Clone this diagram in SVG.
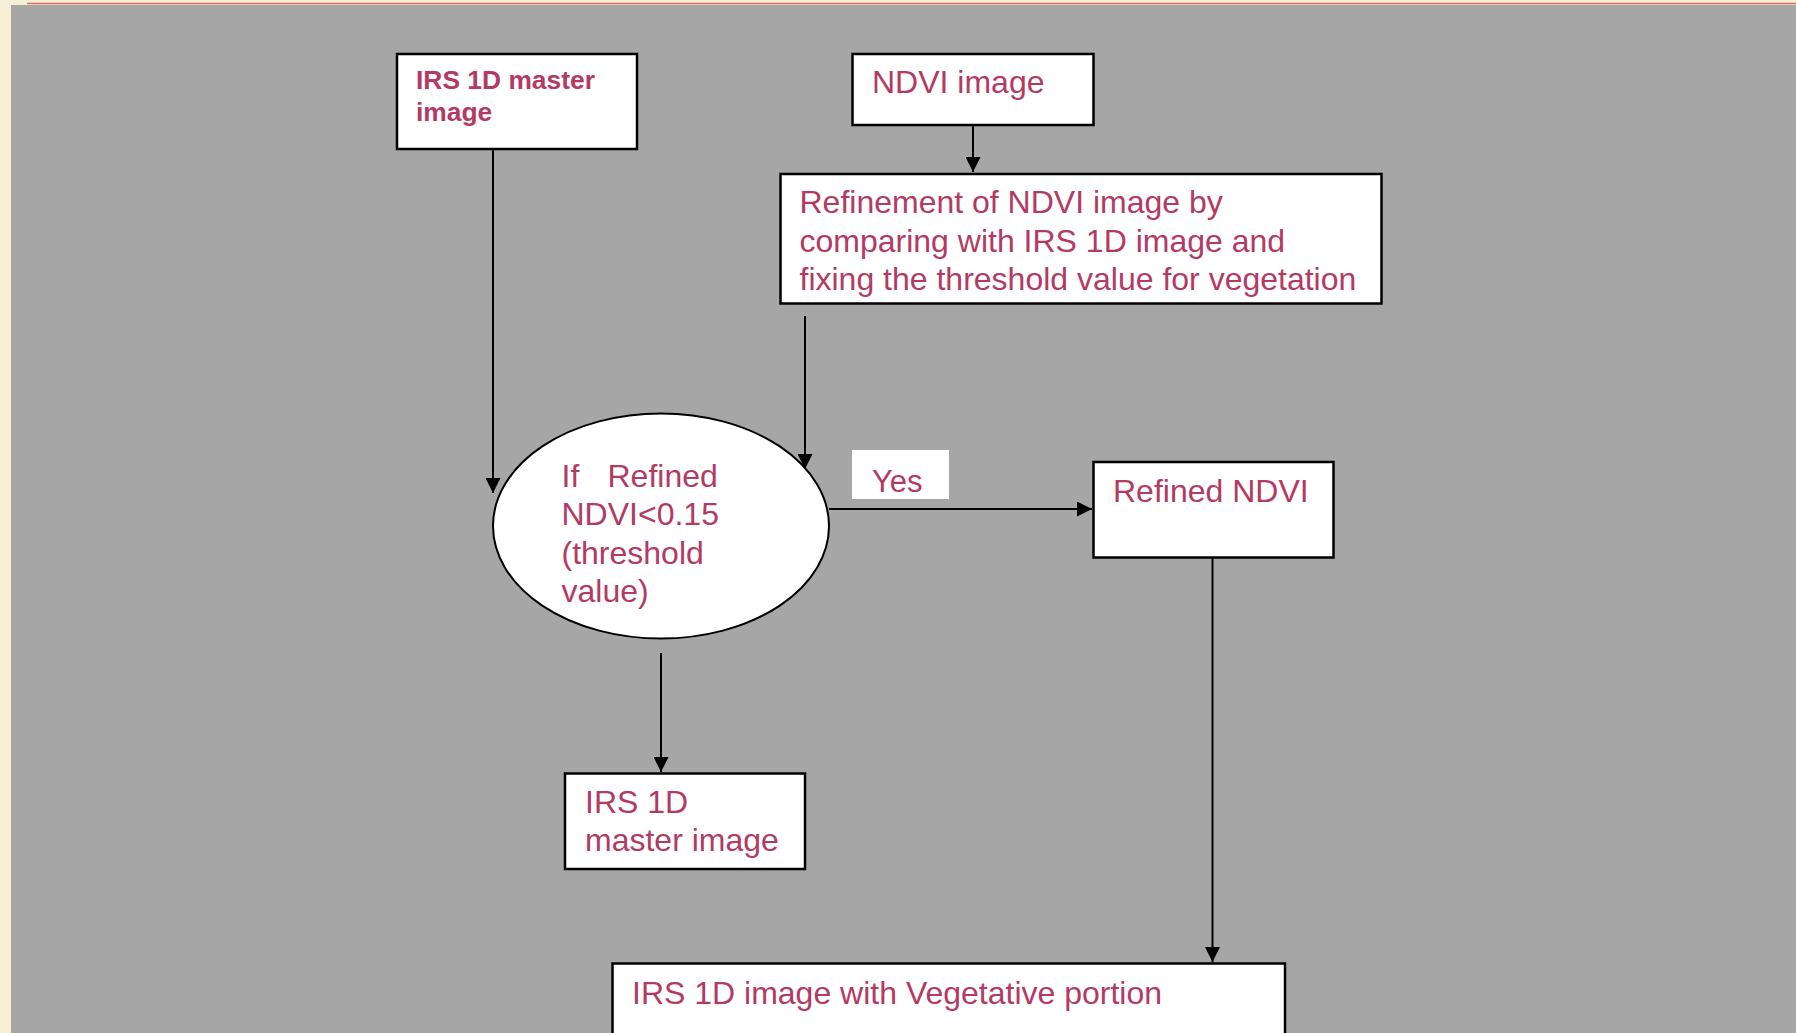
<svg xmlns="http://www.w3.org/2000/svg" width="1796" height="1033" viewBox="0 0 1796 1033">
<style>
.box{fill:#ffffff;stroke:#000000;stroke-width:2.5}
.t{font-family:"Liberation Sans",Arial,sans-serif;font-size:32px;fill:#b33a63}
.tb{font-family:"Liberation Sans",Arial,sans-serif;font-size:26.4px;font-weight:bold;fill:#b33a63}
.ln{stroke:#000000;stroke-width:2;fill:none}
</style>
<defs>
<marker id="ah" viewBox="0 0 10 10" refX="10" refY="5" markerWidth="15" markerHeight="15" markerUnits="userSpaceOnUse" orient="auto">
<path d="M0,0 L10,5 L0,10 Z" fill="#000000"/>
</marker>
</defs>
<rect x="0" y="0" width="1796" height="1033" fill="#f5efd6"/>
<rect x="11" y="5" width="1785" height="1028" fill="#a6a6a6"/>
<line x1="27" y1="3.5" x2="1796" y2="3.5" stroke="#e06a5a" stroke-width="1.5"/>
<g id="connectors">
<line class="ln" x1="493" y1="149" x2="493" y2="493" marker-end="url(#ah)"/>
<line class="ln" x1="973" y1="126" x2="973" y2="172" marker-end="url(#ah)"/>
<line class="ln" x1="805" y1="316" x2="805" y2="469" marker-end="url(#ah)"/>
<line class="ln" x1="829" y1="509" x2="1092" y2="509" marker-end="url(#ah)"/>
<line class="ln" x1="661" y1="653" x2="661" y2="772" marker-end="url(#ah)"/>
<line class="ln" x1="1212.5" y1="558" x2="1212.5" y2="962" marker-end="url(#ah)"/>
</g>
<g id="irs-master-top">
<rect class="box" x="397" y="54" width="240" height="95"/>
<text class="tb" x="416" y="89">IRS 1D master</text>
<text class="tb" x="416" y="121">image</text>
</g>
<g id="ndvi-image">
<rect class="box" x="852.5" y="54" width="241" height="71"/>
<text class="t" x="872" y="93">NDVI image</text>
</g>
<g id="refinement">
<rect class="box" x="780.5" y="174" width="601" height="129.5"/>
<text class="t" x="799.5" y="213">Refinement of NDVI image by</text>
<text class="t" x="799.5" y="251.5">comparing with IRS 1D image and</text>
<text class="t" x="799.5" y="290">fixing the threshold value for vegetation</text>
</g>
<g id="decision">
<ellipse cx="661" cy="526" rx="168" ry="112.5" fill="#ffffff" stroke="#000000" stroke-width="2"/>
<text class="t" x="561.5" y="487">If</text>
<text class="t" x="607.5" y="487">Refined</text>
<text class="t" x="561.5" y="525">NDVI&lt;0.15</text>
<text class="t" x="561.5" y="563.5">(threshold</text>
<text class="t" x="561.5" y="601.5">value)</text>
</g>
<g id="yes-label">
<rect x="852" y="450" width="97" height="49" fill="#ffffff"/>
<text class="t" x="872" y="492" style="font-size:31px">Yes</text>
</g>
<g id="refined-ndvi">
<rect class="box" x="1093.5" y="462" width="240" height="95.5"/>
<text class="t" x="1113" y="502">Refined NDVI</text>
</g>
<g id="irs-master-bottom">
<rect class="box" x="565" y="773.5" width="240" height="95.5"/>
<text class="t" x="585" y="813">IRS 1D</text>
<text class="t" x="585" y="851">master image</text>
</g>
<g id="irs-vegetative">
<rect class="box" x="612.5" y="963.5" width="672.5" height="90"/>
<text class="t" x="632" y="1004">IRS 1D image with Vegetative portion</text>
</g>
</svg>
